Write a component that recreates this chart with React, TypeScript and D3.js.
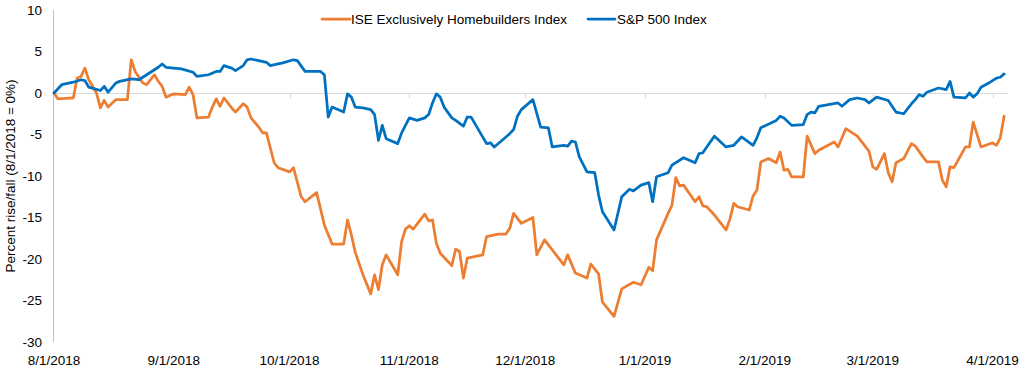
import React from "react";
import * as d3 from "d3";

const W = 1028;
const H = 377;

const xTickLabels = ["8/1/2018", "9/1/2018", "10/1/2018", "11/1/2018", "12/1/2018", "1/1/2019", "2/1/2019", "3/1/2019", "4/1/2019"];
const yTicks = [10, 5, 0, -5, -10, -15, -20, -25, -30];
const seriesNames = ["ISE Exclusively Homebuilders Index", "S&P 500 Index"];
const seriesColors = ["#ED7D31", "#0070C0"];

const homeDates = [
  "8/1/2018", "8/2/2018", "8/6/2018", "8/7/2018", "8/8/2018", "8/9/2018", "8/10/2018", "8/12/2018", "8/13/2018", "8/14/2018",
  "8/15/2018", "8/17/2018", "8/18/2018", "8/20/2018", "8/21/2018", "8/22/2018", "8/24/2018", "8/25/2018", "8/27/2018", "8/28/2018",
  "8/29/2018", "8/30/2018", "9/1/2018", "9/4/2018", "9/5/2018", "9/6/2018", "9/7/2018", "9/10/2018", "9/11/2018", "9/12/2018",
  "9/13/2018", "9/14/2018", "9/16/2018", "9/17/2018", "9/19/2018", "9/20/2018", "9/21/2018", "9/23/2018", "9/24/2018", "9/25/2018",
  "9/27/2018", "9/28/2018", "10/1/2018", "10/2/2018", "10/4/2018", "10/5/2018", "10/8/2018", "10/10/2018", "10/12/2018", "10/15/2018",
  "10/16/2018", "10/17/2018", "10/18/2018", "10/20/2018", "10/22/2018", "10/23/2018", "10/24/2018", "10/25/2018", "10/26/2018", "10/29/2018",
  "10/30/2018", "10/31/2018", "11/1/2018", "11/2/2018", "11/5/2018", "11/6/2018", "11/7/2018", "11/8/2018", "11/9/2018", "11/12/2018",
  "11/13/2018", "11/14/2018", "11/15/2018", "11/16/2018", "11/20/2018", "11/21/2018", "11/24/2018", "11/26/2018", "11/27/2018", "11/28/2018",
  "11/30/2018", "12/3/2018", "12/4/2018", "12/6/2018", "12/11/2018", "12/12/2018", "12/14/2018", "12/17/2018", "12/18/2018", "12/20/2018",
  "12/21/2018", "12/24/2018", "12/26/2018", "12/29/2018", "12/31/2018", "1/2/2019", "1/3/2019", "1/4/2019", "1/7/2019", "1/8/2019",
  "1/9/2019", "1/10/2019", "1/11/2019", "1/14/2019", "1/15/2019", "1/16/2019", "1/17/2019", "1/19/2019", "1/22/2019", "1/23/2019",
  "1/24/2019", "1/25/2019", "1/28/2019", "1/29/2019", "1/30/2019", "1/31/2019", "2/2/2019", "2/4/2019", "2/5/2019", "2/6/2019",
  "2/7/2019", "2/8/2019", "2/11/2019", "2/12/2019", "2/14/2019", "2/15/2019", "2/19/2019", "2/20/2019", "2/22/2019", "2/25/2019",
  "2/28/2019", "3/1/2019", "3/2/2019", "3/4/2019", "3/5/2019", "3/6/2019", "3/7/2019", "3/9/2019", "3/11/2019", "3/12/2019",
  "3/14/2019", "3/15/2019", "3/18/2019", "3/19/2019", "3/20/2019", "3/21/2019", "3/22/2019", "3/25/2019", "3/26/2019", "3/27/2019",
  "3/29/2019", "4/1/2019", "4/2/2019", "4/3/2019", "4/4/2019"
];
const homeValues = [
  0, -0.7, -0.6, 1.8, 2.0, 3.0, 1.6, 0, -1.8, -0.9,
  -1.7, -0.8, -0.8, -0.8, 4.0, 2.6, 1.2, 1.0, 2.2, 1.4,
  0.8, -0.5, -0.1, -0.2, 0.7, -0.2, -3.0, -2.9, -1.7, -0.7,
  -1.6, -0.6, -1.8, -2.3, -1.3, -1.7, -3.0, -4.1, -4.8, -4.8,
  -8.4, -9.0, -9.5, -9.0, -12.5, -13.1, -12.0, -15.9, -18.2, -18.2,
  -15.3, -17.1, -19.2, -21.9, -24.2, -21.9, -23.7, -20.7, -19.5, -21.9,
  -17.9, -16.4, -16.0, -16.4, -14.6, -15.4, -15.3, -18.1, -19.3, -20.8,
  -18.8, -19.1, -22.3, -19.9, -19.5, -17.3, -17.0, -17.0, -16.3, -14.5,
  -15.7, -15.0, -19.5, -17.7, -20.7, -19.5, -21.7, -22.3, -20.6, -21.8,
  -25.2, -26.9, -23.6, -22.8, -23.1, -21.0, -21.4, -17.7, -14.5, -13.5,
  -10.2, -11.2, -11.1, -13.1, -12.5, -13.6, -13.7, -14.7, -16.5, -15.2,
  -13.3, -13.7, -14.1, -12.4, -11.7, -8.3, -7.9, -8.4, -7.1, -9.3,
  -9.2, -10.1, -10.1, -5.2, -7.3, -6.9, -5.9, -6.5, -4.3, -5.2,
  -7.0, -8.9, -9.2, -7.3, -9.6, -10.7, -8.4, -7.9, -6.1, -6.4,
  -7.7, -8.3, -8.3, -10.5, -11.3, -8.9, -9.0, -6.5, -6.5, -3.5,
  -6.5, -6.0, -6.3, -5.4, -2.8
];

const spDates = [
  "8/1/2018", "8/3/2018", "8/6/2018", "8/8/2018", "8/9/2018", "8/10/2018", "8/13/2018", "8/14/2018", "8/15/2018", "8/17/2018",
  "8/18/2018", "8/21/2018", "8/23/2018", "8/25/2018", "8/27/2018", "8/28/2018", "8/29/2018", "8/30/2018",
  "9/3/2018", "9/6/2018", "9/7/2018", "9/10/2018", "9/12/2018", "9/13/2018", "9/14/2018", "9/16/2018", "9/17/2018", "9/19/2018",
  "9/20/2018", "9/21/2018", "9/23/2018", "9/25/2018", "9/26/2018", "9/28/2018", "9/29/2018",
  "10/2/2018", "10/3/2018", "10/5/2018", "10/9/2018", "10/10/2018", "10/11/2018", "10/12/2018", "10/15/2018", "10/16/2018", "10/17/2018",
  "10/18/2018", "10/20/2018", "10/22/2018", "10/23/2018", "10/24/2018", "10/25/2018", "10/26/2018", "10/29/2018", "10/30/2018",
  "11/1/2018", "11/3/2018", "11/5/2018", "11/6/2018", "11/7/2018", "11/8/2018", "11/9/2018", "11/10/2018", "11/12/2018", "11/13/2018",
  "11/15/2018", "11/16/2018", "11/17/2018", "11/19/2018", "11/21/2018", "11/22/2018", "11/23/2018", "11/27/2018", "11/28/2018", "11/29/2018",
  "11/30/2018",
  "12/3/2018", "12/5/2018", "12/7/2018", "12/8/2018", "12/11/2018", "12/12/2018", "12/13/2018", "12/14/2018", "12/15/2018", "12/17/2018",
  "12/19/2018", "12/20/2018", "12/21/2018", "12/24/2018", "12/26/2018", "12/28/2018", "12/29/2018", "12/31/2018",
  "1/2/2019", "1/3/2019", "1/4/2019", "1/7/2019", "1/8/2019", "1/11/2019", "1/14/2019", "1/15/2019", "1/16/2019", "1/17/2019",
  "1/19/2019", "1/22/2019", "1/24/2019", "1/26/2019", "1/29/2019", "1/30/2019", "1/31/2019",
  "2/4/2019", "2/5/2019", "2/6/2019", "2/8/2019", "2/11/2019", "2/12/2019", "2/13/2019", "2/14/2019", "2/15/2019", "2/20/2019",
  "2/21/2019", "2/23/2019", "2/25/2019", "2/27/2019", "2/28/2019",
  "3/2/2019", "3/5/2019", "3/7/2019", "3/9/2019", "3/11/2019", "3/12/2019", "3/13/2019", "3/14/2019", "3/15/2019", "3/18/2019",
  "3/20/2019", "3/21/2019", "3/22/2019", "3/25/2019", "3/26/2019", "3/27/2019", "3/28/2019", "3/29/2019", "3/31/2019",
  "4/2/2019", "4/3/2019", "4/4/2019"
];
const spValues = [
  0, 1.0, 1.3, 1.6, 1.5, 0.7, 0.3, 0.8, 0.1, 1.2,
  1.4, 1.7, 1.6, 2.2, 2.8, 3.1, 3.5, 3.1,
  2.9, 2.5, 2.0, 2.2, 2.6, 2.6, 3.3, 3.0, 2.7, 3.3,
  4.0, 4.1, 3.9, 3.7, 3.3, 3.5, 3.6,
  4.0, 3.9, 2.6, 2.6, 2.2, -2.9, -1.7, -2.3, -0.1, -0.5,
  -1.7, -1.8, -2.0, -2.6, -5.7, -3.9, -5.5, -6.1, -4.8,
  -3.0, -3.3, -3.0, -2.6, -1.2, -0.1, -0.5, -1.7, -3.0, -3.3,
  -4.0, -2.9, -2.9, -4.5, -6.1, -6.0, -6.5, -4.9, -4.4, -2.8,
  -2.0,
  -0.8, -4.1, -4.2, -6.5, -6.3, -6.4, -5.8, -5.9, -7.7, -9.5,
  -9.6, -12.3, -14.3, -16.5, -12.5, -11.6, -11.8, -11.1,
  -10.8, -13.1, -10.1, -9.6, -8.7, -7.8, -8.4, -7.3, -7.2, -6.5,
  -5.2, -6.5, -6.3, -5.3, -6.3, -5.4, -4.2,
  -3.3, -2.8, -3.0, -3.9, -3.8, -2.6, -2.3, -2.4, -1.6, -1.2,
  -1.6, -0.8, -0.6, -0.8, -1.2,
  -0.5, -0.9, -2.3, -2.5, -1.3, -0.8, -0.2, -0.4, 0.1, 0.6,
  0.4, 1.4, -0.5, -0.6, 0.0, -0.5, -0.1, 0.7, 1.2,
  1.8, 1.9, 2.3
];

const FONT = "'Liberation Sans', Arial, sans-serif";

export default function App() {
  const parse = d3.utcParse("%m/%d/%Y");
  const x = d3
    .scaleUtc()
    .domain([parse("8/1/2018") as Date, parse("4/5/2019") as Date])
    .range([54, 1008]);
  const y = d3.scaleLinear().domain([-30, 10]).range([342, 10]);

  const line = d3
    .line<[Date, number]>()
    .x((d) => x(d[0]))
    .y((d) => y(d[1]));

  const homeData: [Date, number][] = homeDates.map((d, i) => [parse(d) as Date, homeValues[i]]);
  const spData: [Date, number][] = spDates.map((d, i) => [parse(d) as Date, spValues[i]]);
  const tickDates = xTickLabels.map((s) => parse(s) as Date);

  const y0 = y(0);

  return (
    <div style={{ position: "absolute", left: 0, top: 0 }}>
      <svg width={W} height={H} style={{ display: "block", background: "#fff" }}>
        {/* y axis line */}
        <line x1={53.5} x2={53.5} y1={y(10)} y2={y(-30)} stroke="#BFBFBF" strokeWidth={1} />
        {/* zero baseline */}
        <line x1={54} x2={x.range()[1]} y1={Math.round(y0) + 0.5} y2={Math.round(y0) + 0.5} stroke="#D9D9D9" strokeWidth={1} />
        {tickDates.slice(1).map((d, i) => (
          <line
            key={"t" + i}
            x1={Math.round(x(d)) + 0.5}
            x2={Math.round(x(d)) + 0.5}
            y1={Math.round(y0) + 0.5}
            y2={Math.round(y0) + 5.5}
            stroke="#D9D9D9"
            strokeWidth={1}
          />
        ))}
        {/* y tick labels */}
        {yTicks.map((v) => (
          <text key={"y" + v} x={42} y={y(v)} dy="0.35em" textAnchor="end" fontFamily={FONT} fontSize={13.5} fill="#000">
            {v}
          </text>
        ))}
        {/* x tick labels */}
        {tickDates.map((d, i) => (
          <text key={"x" + i} x={x(d)} y={360} dy="0.35em" textAnchor="middle" fontFamily={FONT} fontSize={13.5} fill="#000">
            {xTickLabels[i]}
          </text>
        ))}
        {/* y title */}
        <text
          transform={`translate(10,${(y(10) + y(-30)) / 2}) rotate(-90)`}
          dy="0.35em"
          textAnchor="middle"
          fontFamily={FONT}
          fontSize={13.5}
          fill="#000"
        >
          Percent rise/fall (8/1/2018 = 0%)
        </text>
        {/* series */}
        <path d={line(homeData) || ""} fill="none" stroke={seriesColors[0]} strokeWidth={2.75} strokeLinejoin="round" strokeLinecap="round" />
        <path d={line(spData) || ""} fill="none" stroke={seriesColors[1]} strokeWidth={2.75} strokeLinejoin="round" strokeLinecap="round" />
        {/* legend */}
        <line x1={322} x2={350} y1={19} y2={19} stroke={seriesColors[0]} strokeWidth={2.75} strokeLinecap="round" />
        <text x={351} y={19} dy="0.35em" fontFamily={FONT} fontSize={13.5} fill="#000">
          {seriesNames[0]}
        </text>
        <line x1={588} x2={615} y1={19} y2={19} stroke={seriesColors[1]} strokeWidth={2.75} strokeLinecap="round" />
        <text x={617} y={19} dy="0.35em" fontFamily={FONT} fontSize={13.5} fill="#000">
          {seriesNames[1]}
        </text>
      </svg>
    </div>
  );
}
